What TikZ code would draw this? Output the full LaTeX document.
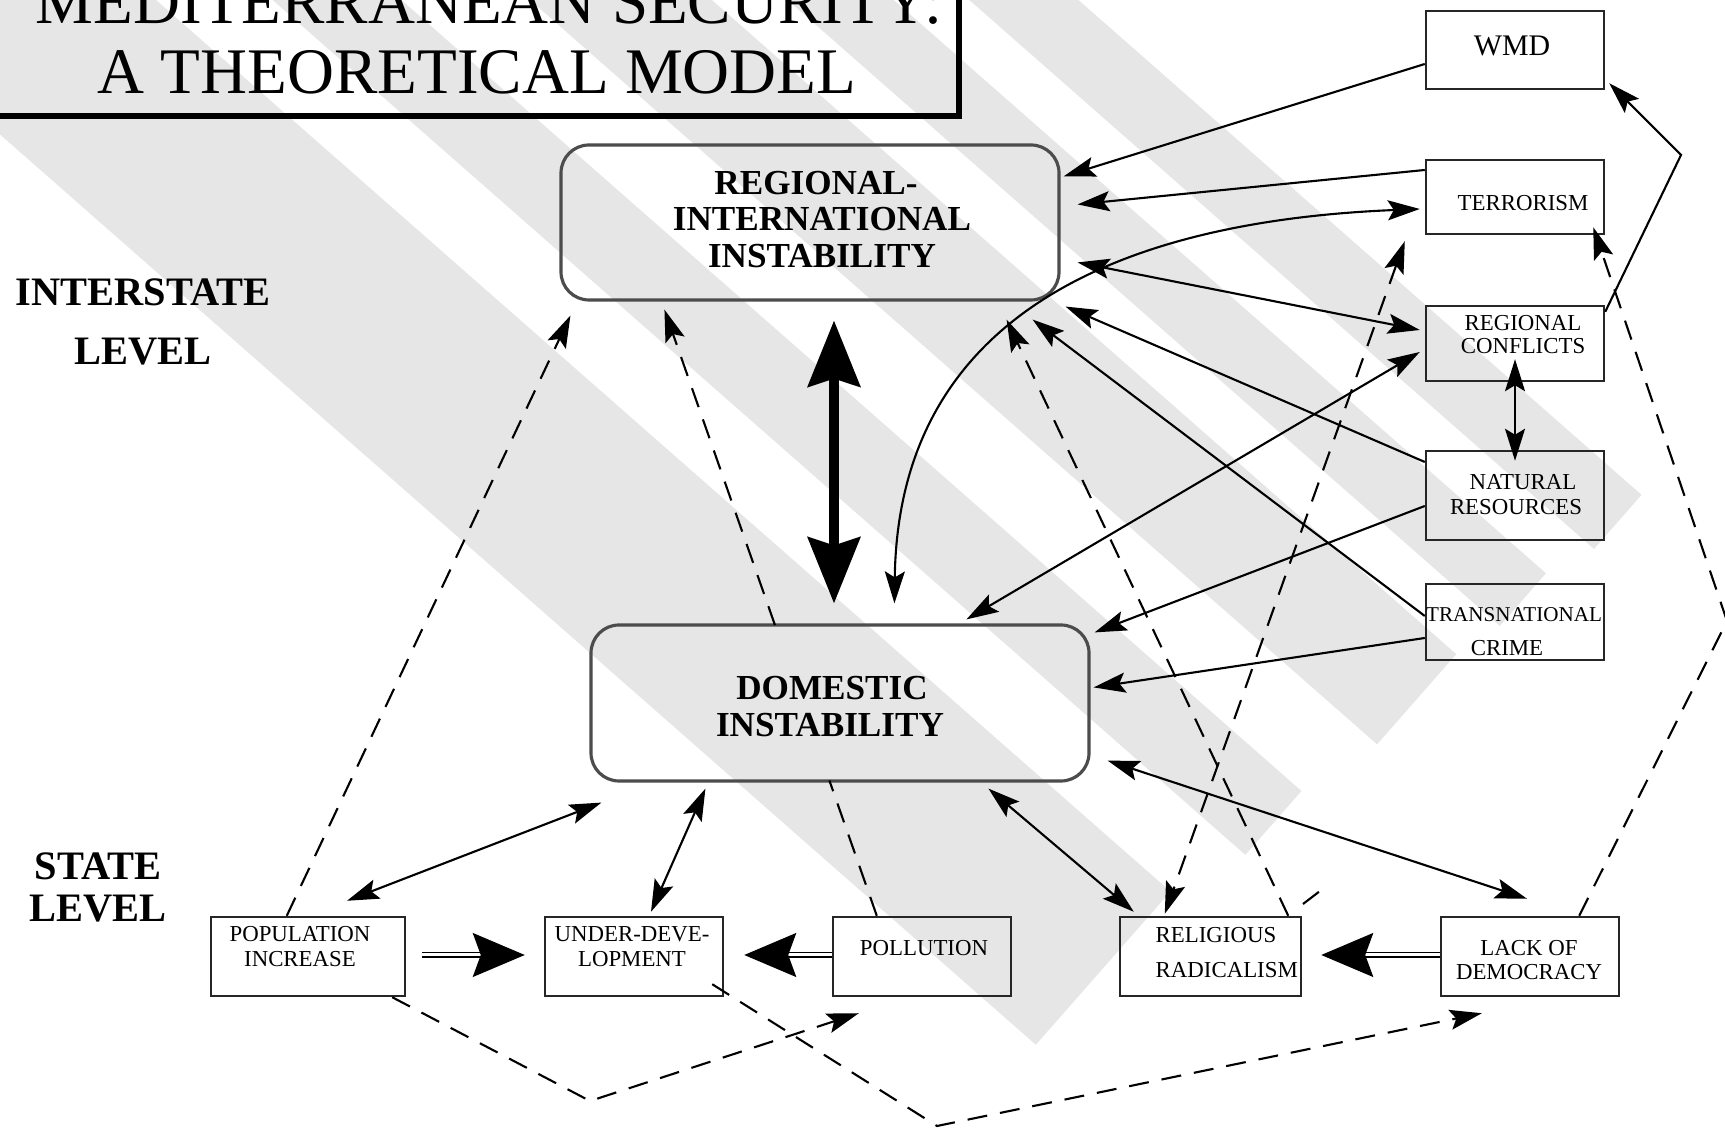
\documentclass[tikz,border=0pt]{standalone}
\usepackage{fontspec}
\setmainfont{Liberation Serif}
\usetikzlibrary{arrows.meta,calc}
\definecolor{stripe}{RGB}{230,230,230}
\tikzset{
  sbox/.style={draw=black!85, line width=0.7pt, minimum width=17.8mm, minimum height=7.5mm, inner sep=0pt},
  bigbox/.style={draw=black!70, line width=0.9pt, rounded corners=2.8mm, inner sep=0pt},
  stxt/.style={font=\fontsize{6.5}{7}\selectfont, inner sep=0pt},
  btxt/.style={font=\fontsize{10}{12}\selectfont\bfseries, inner sep=0pt},
  lvl/.style={font=\fontsize{11.5}{13}\selectfont\bfseries, inner sep=0pt},
  ttl/.style={font=\fontsize{18.5}{20}\selectfont, inner sep=0pt, anchor=base},
  tip/.tip={Stealth[length=3.2mm,width=2.0mm,inset=0.6mm]},
  conn/.style={line width=0.6pt, -tip},
  bconn/.style={line width=0.6pt, tip-tip},
  dsh/.style={dash pattern=on 2mm off 1.3mm},
  dconn/.style={conn, dsh},
  dbconn/.style={bconn, dsh},
  dplain/.style={line width=0.6pt, dsh},
  fat/.style={line width=2.6pt, {Stealth[length=6.6mm,width=5.2mm,inset=0.8mm]}-{Stealth[length=6.6mm,width=5.2mm,inset=0.8mm]}},
  dblarrow/.style={line width=0.5pt, double distance=0.3mm, -{Stealth[length=5.2mm,width=4.4mm,inset=0.8mm]}}
}
\begin{document}
\begin{tikzpicture}[x=0.1mm,y=-0.1mm]
\useasboundingbox (0,0) rectangle (1725,1129);
\clip (0,0) rectangle (1725,1129);
\fill[white] (0,0) rectangle (1725,1129);
% background stripes: p = across, s = along (x = .751s+.66p, y = .66s-.751p)
\foreach \pa/\pb/\se in {-101/103/1468, 180/265/1500, 350/470/1526, 520/590/1540, 640/712/1560}
  \fill[stripe] ({0.751*(-1500)+0.66*\pa},{0.66*(-1500)-0.751*\pa}) -- ({0.751*\se+0.66*\pa},{0.66*\se-0.751*\pa}) -- ({0.751*\se+0.66*\pb},{0.66*\se-0.751*\pb}) -- ({0.751*(-1500)+0.66*\pb},{0.66*(-1500)-0.751*\pb}) -- cycle;
% title
\draw[line width=0.6mm] (-40,-40) rectangle (959,116);
\node[ttl] (title1) at (489,24) {MEDITERRANEAN SECURITY:};
\node[ttl] (title2) at (477,93.5) {A THEORETICAL MODEL};
% level labels
\node[lvl] (inter1) at (143,292) {INTERSTATE};
\node[lvl] (inter2) at (143,352) {LEVEL};
\node[lvl] (state1) at (98,866) {STATE};
\node[lvl] (state2) at (98,909) {LEVEL};
% right column
\node[sbox, minimum height=7.8mm] (wmd) at (1515,50) {};
\node[stxt, font=\fontsize{8.5}{9}\selectfont] (wmdt) at (1512,46) {WMD};
\node[sbox, minimum height=7.4mm] (terr) at (1515,197) {};
\node[stxt] (terrt) at (1523,203) {TERRORISM};
\node[sbox, minimum height=7.5mm] (rc) at (1515,343.5) {};
\node[stxt] (rct1) at (1523,323) {REGIONAL};
\node[stxt] (rct2) at (1523,346) {CONFLICTS};
\node[sbox, minimum height=8.9mm] (nr) at (1515,495.5) {};
\node[stxt] (nrt1) at (1523,482) {NATURAL};
\node[stxt] (nrt2) at (1516,507) {RESOURCES};
\node[sbox, minimum height=7.6mm] (cr) at (1515,622) {};
\node[stxt, font=\fontsize{6}{7}\selectfont] (crt1) at (1514,615) {TRANSNATIONAL};
\node[stxt] (crt2) at (1507,648) {CRIME};
% big boxes
\node[bigbox, minimum width=49.8mm, minimum height=15.5mm] (reg) at (810,222.5) {};
\node[btxt] (regt1) at (816,183) {REGIONAL-};
\node[btxt] (regt2) at (822,219) {INTERNATIONAL};
\node[btxt] (regt3) at (822,256) {INSTABILITY};
\node[bigbox, minimum width=49.8mm, minimum height=15.6mm] (dom) at (840,703) {};
\node[btxt] (domt1) at (832,688) {DOMESTIC};
\node[btxt] (domt2) at (830,725) {INSTABILITY};
% bottom row
\node[sbox, minimum width=19.4mm, minimum height=7.9mm] (pop) at (308,956.5) {};
\node[stxt] (popt1) at (300,934) {POPULATION};
\node[stxt] (popt2) at (300,959) {INCREASE};
\node[sbox, minimum height=7.9mm] (under) at (634,956.5) {};
\node[stxt] (undt1) at (632,934) {UNDER-DEVE-};
\node[stxt] (undt2) at (632,959) {LOPMENT};
\node[sbox, minimum height=7.9mm] (poll) at (922,956.5) {};
\node[stxt] (pollt) at (924,948) {POLLUTION};
\node[sbox, minimum width=18.1mm, minimum height=7.9mm] (relig) at (1210.5,956.5) {};
\node[stxt, anchor=west] (relt1) at (1155,935) {RELIGIOUS};
\node[stxt, anchor=west] (relt2) at (1155,970) {RADICALISM};
\node[sbox, minimum height=7.9mm] (lack) at (1530,956.5) {};
\node[stxt] (lackt1) at (1529,948) {LACK OF};
\node[stxt] (lackt2) at (1529,972) {DEMOCRACY};
% bend coordinates
\coordinate (k1) at (1681,155);
\coordinate (k2) at (1727,621);
\coordinate (k3) at (590,1101);
\coordinate (k4) at (937,1126);
\coordinate (s1) at (1303,904);
\coordinate (s2) at (1320,891);
% connectors
\draw[conn] ($(wmd.west)+(0,14)$) -- ($(reg.north east)+(3,33)$);
\draw[conn] ($(terr.west)+(0,-27)$) -- ($(reg.north east)+(17,61)$);
\draw[bconn] ($(terr.west)+(-5,12)$) .. controls ($(terr.west)+(-276,23)$) and ($(dom.north west)+(309,-325)$) .. ($(dom.north west)+(305,-20)$);
\draw[bconn] ($(reg.north east)+(17,119)$) -- ($(rc.west)+(-5,-13.5)$);
\draw[bconn] ($(dom.north west)+(377,-4)$) -- ($(rc.west)+(-5,8.5)$);
\draw[conn] ($(nr.west)+(0,-33.5)$) -- ($(reg.south east)+(5,5)$);
\draw[conn] ($(cr.west)+(0,-6)$) -- ($(reg.south east)+(-28,18)$);
\draw[conn] ($(nr.west)+(0,10.5)$) -- ($(dom.north east)+(4,9)$);
\draw[conn] ($(cr.west)+(0,16)$) -- ($(dom.north east)+(3,64)$);
\draw[fat] ($(reg.south)+(24,19)$) -- ($(dom.north)+(-6,-20)$);
\draw[bconn] ($(rc.south)+(0,-23)$) -- ($(nr.north)+(0,11)$);
\draw[conn] ($(rc.north east)+(0,7)$) -- (k1) -- ($(wmd.south east)+(4,-7)$);
\draw[dconn] ($(lack.north east)+(-41,0)$) -- (k2) -- ($(terr.south east)+(-12,-8)$);
\draw[dconn] ($(relig.north east)+(-14,0)$) -- ($(reg.south east)+(-54,18)$);
\draw[dbconn] ($(terr.south west)+(-20,6)$) -- ($(relig.north west)+(46,-2)$);
\coordinate (p16) at ($(poll.north west)+(45,0)$);
\coordinate (q16) at ($(reg.south west)+(105,8)$);
\draw[dplain] (p16) -- ($(p16)!0.2233!(q16)$);
\draw[dconn] ($(p16)!0.4795!(q16)$) -- (q16);
\draw[dconn] ($(pop.north west)+(77,0)$) -- ($(reg.south west)+(11,14)$);
\draw[bconn] ($(pop.north)+(39,-15)$) -- ($(dom.south west)+(12,20)$);
\draw[bconn] ($(under.north)+(17,-4)$) -- ($(dom.south west)+(116,6)$);
\draw[bconn] ($(dom.south west)+(399,6)$) -- ($(relig.north west)+(15,-4)$);
\draw[bconn] ($(dom.south east)+(17,-22)$) -- ($(lack.north)+(-3,-17)$);
\draw[dblarrow] ($(pop.east)+(16,-1.5)$) -- ($(under.west)+(-19,-1.5)$);
\draw[dblarrow] ($(poll.west)+(0,-1.5)$) -- ($(under.east)+(20,-1.5)$);
\draw[dblarrow] ($(lack.west)+(0,-1.5)$) -- ($(relig.east)+(19,-1.5)$);
\draw[dconn] ($(pop.south east)+(-14,0)$) -- (k3) -- ($(poll.south west)+(27,16)$);
\draw[dconn] ($(under.south east)+(-12,-13)$) -- (k4) -- ($(lack.south west)+(42,16)$);
\draw[dplain] (s1) -- (s2);
\end{tikzpicture}
\end{document}
